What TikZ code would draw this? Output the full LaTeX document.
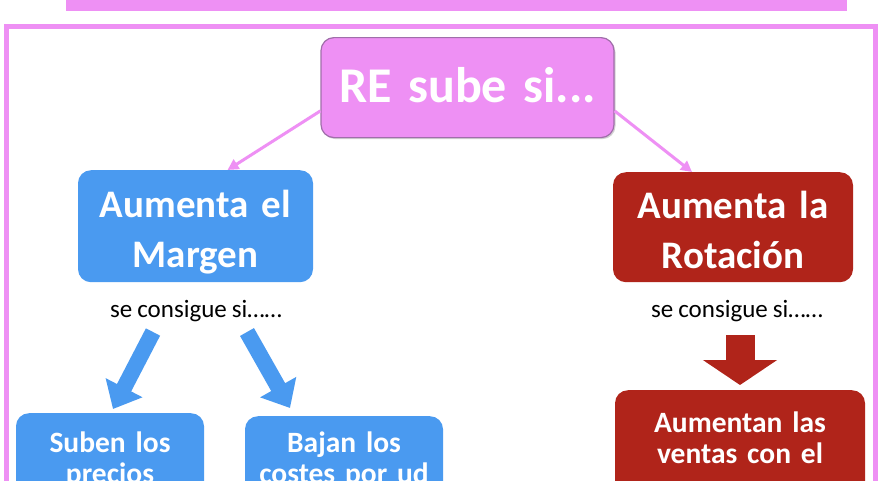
\documentclass[tikz,border=0pt]{standalone}
\usepackage{fontspec}
\setmainfont[WordSpace={0.9,0,0}]{Carlito}
\usetikzlibrary{arrows.meta,shadows}
\definecolor{pinkc}{RGB}{238,144,244}
\definecolor{pinkedge}{RGB}{160,110,170}
\definecolor{bluec}{RGB}{74,154,240}
\definecolor{redc}{RGB}{176,36,26}
\begin{document}
\begin{tikzpicture}[x=1pt,y=-1pt,
  box/.style={rounded corners=13pt, inner xsep=0pt, inner ysep=0pt, anchor=north, text=white, align=center},
  bigfont/.style={font=\fontsize{39}{50}\selectfont\bfseries},
  smallfont/.style={font=\fontsize{29.5}{31}\selectfont\bfseries},
  note/.style={anchor=base, text=black, font=\fontsize{25}{30}\selectfont},
  thinarrow/.style={draw=pinkc, line width=3pt, -{Triangle[length=11pt,width=11pt]}},
  bluearrow/.style={draw=bluec, line width=16pt, -{Triangle[length=24pt,width=40pt]}},
  redarrow/.style={draw=redc, line width=29pt, -{Triangle[length=25pt,width=73pt]}},
]
\useasboundingbox (0,0) rectangle (880,480);
\clip (0,0) rectangle (880,480);
\fill[white] (0,0) rectangle (880,480);
% top bar
\fill[pinkc] (66,-5) rectangle (847,11);
% frame
\draw[pinkc, line width=4.5pt] (6.5,26.5) rectangle (875.5,560);
% nodes
\node[box, fill=pinkc, draw=pinkedge, line width=1.2pt,
  drop shadow={opacity=0.35, shadow xshift=1.5pt, shadow yshift=-1.5pt},
  text width=293pt, text height=65pt, text depth=35pt,
  font=\fontsize{50}{55}\selectfont\bfseries] (re) at (467.5,37) {RE sube si...};
\node[box, bigfont, fill=bluec, text width=235pt, text height=47pt, text depth=65pt] (margen) at (195.5,170) {Aumenta el\\Margen};
\node[box, bigfont, fill=redc, text width=240pt, text height=46pt, text depth=64pt] (rot) at (733,172) {Aumenta la\\Rotación};
\node[note] (sc1) at (196,317) {se consigue si……};
\node[note] (sc2) at (737,317) {se consigue si……};
\node[box, smallfont, fill=bluec, text width=188pt, text height=39pt, text depth=120pt] (suben) at (110,413) {Suben los\\precios};
\node[box, smallfont, fill=bluec, text width=198pt, text height=36pt, text depth=120pt] (bajan) at (344,416) {Bajan los\\costes por ud};
\node[box, smallfont, fill=redc, text width=250pt, text height=42pt, text depth=120pt] (aum) at (740,390) {Aumentan las\\ventas con el};
% connectors
\draw[thinarrow] (re.189) -- ([xshift=32pt]margen.north);
\draw[thinarrow] (re.-9) -- ([xshift=-41pt]rot.north);
\coordinate (b1) at (153,332);
\coordinate (b2) at (247,332);
\coordinate (r1) at (740,335);
\draw[bluearrow] (b1) -- ([xshift=3pt,yshift=4pt]suben.north);
\draw[bluearrow] (b2) -- ([xshift=-54pt,yshift=8pt]bajan.north);
\draw[redarrow] (r1) -- ([yshift=5pt]aum.north);
\end{tikzpicture}
\end{document}
